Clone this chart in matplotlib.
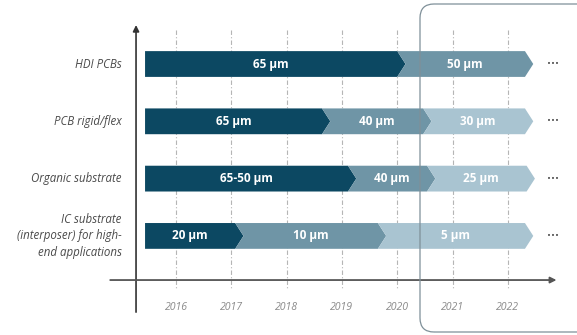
import matplotlib.pyplot as plt
from matplotlib.patches import Polygon, FancyBboxPatch
from matplotlib.transforms import IdentityTransform

# rows, top to bottom
rows = ["HDI PCBs", "PCB rigid/flex", "Organic substrate",
        "IC substrate\n(interposer) for high-\nend applications"]
# segment end years (base of the chevron point) for each row
seg_ends = [[2020.0, 2022.31],
            [2018.64, 2020.47, 2022.31],
            [2019.11, 2020.54, 2022.34],
            [2017.07, 2019.65, 2022.31]]
seg_labels = [["65 µm", "50 µm"],
              ["65 µm", "40 µm", "30 µm"],
              ["65-50 µm", "40 µm", "25 µm"],
              ["20 µm", "10 µm", "5 µm"]]
years = [2016, 2017, 2018, 2019, 2020, 2021, 2022]
bar_start = 2015.44

dark = "#0c4862"
mid = "#6f95a6"
light = "#a9c4d1"
# colour of each segment depends on how many segments the row has
seg_colors = {2: [dark, mid], 3: [dark, mid, light]}

fig = plt.figure(figsize=(5.77, 3.35), dpi=100)
ax = fig.add_axes([0, 0, 1, 1])
ax.set_xlim(2012.817, 2023.251)
ax.set_ylim(4.729, -1.117)
ax.axis("off")

# dash-dot year gridlines
for yr in years:
    ax.plot([yr, yr], [-0.6, 3.95], color="#b5b5b5", lw=0.8,
            linestyle=(0, (4, 2, 1, 2)), zorder=1)
    ax.text(yr, 4.25, str(yr), ha="center", va="center", fontsize=7.6,
            style="italic", color="#8a8a8a", family="Open Sans")

h = 0.45
d = 0.15
for i, (ends, labs) in enumerate(zip(seg_ends, seg_labels)):
    cols = seg_colors[len(ends)]
    x0 = bar_start
    for j, x1 in enumerate(ends):
        pts = [(x0, i - h / 2), (x1, i - h / 2), (x1 + d, i), (x1, i + h / 2), (x0, i + h / 2)]
        if j > 0:
            pts.append((x0 + d, i))
        ax.add_patch(Polygon(pts, closed=True, facecolor=cols[j], edgecolor="none", zorder=2))
        cx = (x0 + x1) / 2 + (d / 2 if j > 0 else 0)
        ax.text(cx, i, labs[j], ha="center", va="center", color="white",
                fontsize=8.5, fontweight="bold", family="Open Sans", zorder=4)
        x0 = x1
    ax.text(2022.82, i, "•••", ha="center", va="center", fontsize=5,
            color="#4a4a4a", zorder=4)
    ax.text(2015.02, i, rows[i], ha="right", va="center", fontsize=8.3,
            style="italic", color="#4a4a4a", family="Open Sans",
            linespacing=1.35)

# axes with arrows
ax.annotate("", xy=(2015.277, -0.68), xytext=(2015.277, 4.33),
            arrowprops=dict(arrowstyle="-|>", color="#333333", lw=1.2,
                            mutation_scale=9, shrinkA=0, shrinkB=0), zorder=3)
ax.annotate("", xy=(2022.88, 3.77), xytext=(2014.81, 3.77),
            arrowprops=dict(arrowstyle="-|>", color="#555555", lw=1.3,
                            mutation_scale=9, shrinkA=0, shrinkB=0), zorder=3)

# rounded frame around the forecast years (pixel coordinates)
box = FancyBboxPatch((420, 3), 185, 328, boxstyle="round,pad=0,rounding_size=14",
                     transform=IdentityTransform(), facecolor="none",
                     edgecolor="#7f9099", lw=0.9, zorder=3)
ax.add_patch(box)

fig.savefig("out.png", dpi=100)
